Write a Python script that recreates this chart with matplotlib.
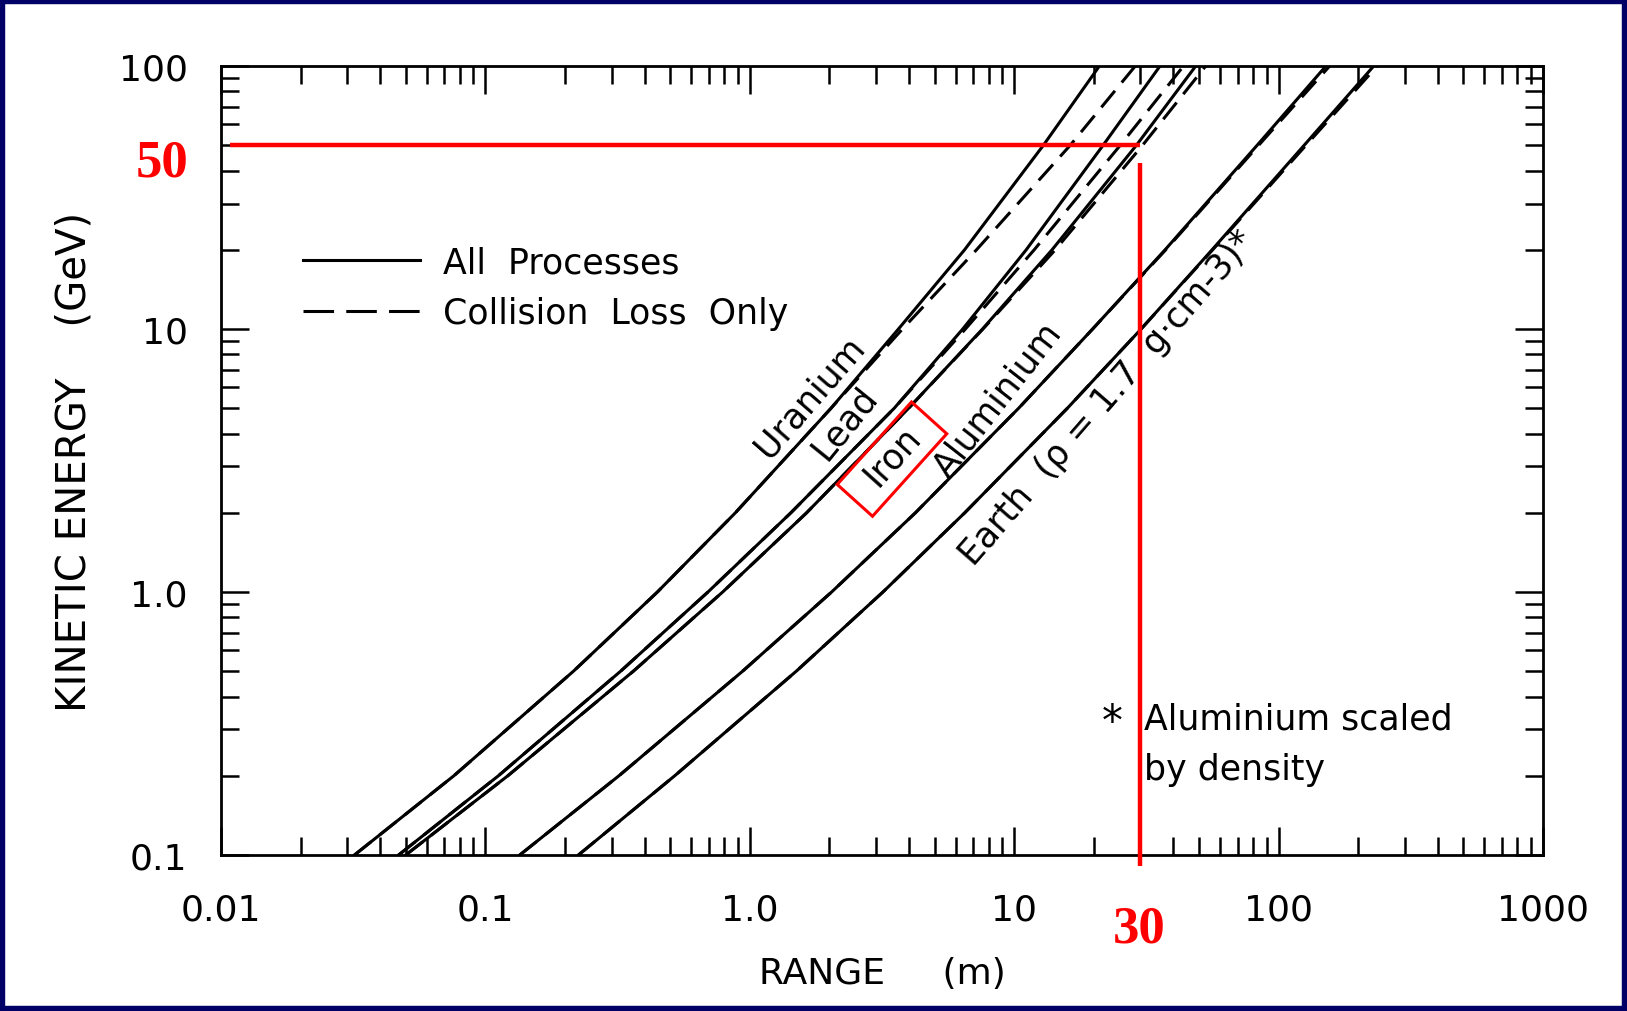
import matplotlib.pyplot as plt
from matplotlib.lines import Line2D
from matplotlib.patches import Rectangle
from matplotlib.transforms import Affine2D, ScaledTranslation
from matplotlib.ticker import NullFormatter

energy = [0.1, 0.2, 0.5, 1, 2, 5, 10, 20, 50, 100]

# range in metres, "all processes" (solid) and "collision loss only" (dashed)
uranium_all = [0.032, 0.076, 0.2155, 0.4475, 0.882, 2.03, 3.65, 6.49, 12.9, 21.0]
uranium_coll = [0.032, 0.076, 0.2155, 0.4475, 0.882, 2.03, 3.78, 7.2, 16.3, 28.7]
lead_all = [0.047, 0.112, 0.325, 0.695, 1.43, 3.52, 6.39, 11.1, 21.7, 35.6]
lead_coll = [0.047, 0.112, 0.325, 0.695, 1.43, 3.52, 6.54, 11.9, 25.2, 43.7]
iron_all = [0.050, 0.1216, 0.363, 0.79, 1.64, 3.99, 7.59, 13.9, 29.0, 48.6]
iron_coll = [0.050, 0.1216, 0.363, 0.79, 1.64, 3.99, 7.62, 14.3, 30.6, 53.0]
alu_all = [0.135, 0.32, 0.94, 2.04, 4.23, 10.4, 19.8, 37.2, 83, 151]
alu_coll = [0.135, 0.32, 0.94, 2.04, 4.23, 10.4, 19.8, 37.4, 84.1, 156]
earth_all = [0.225, 0.52, 1.50, 3.19, 6.5, 15.9, 30.2, 56, 125, 229]
earth_coll = [0.225, 0.52, 1.50, 3.19, 6.5, 15.9, 30.2, 56.3, 127, 236]

xticks = [0.01, 0.1, 1, 10, 100, 1000]
xticklabels = ['0.01', '0.1', '1.0', '10', '100', '1000']
yticks = [0.1, 1, 10, 100]
yticklabels = ['0.1', '1.0', '10', '100']

# the red "50 GeV -> 30 m" guide drawn over the figure
guide_range = 30
guide_energy = 50

FONT = 'DejaVu Sans'
LW = 2.2


def plot_ranges(ax):
    for r in [uranium_all, lead_all, iron_all, alu_all, earth_all]:
        ax.plot(r, energy, color='black', lw=LW)
    for r in [uranium_coll, lead_coll, iron_coll, alu_coll, earth_coll]:
        ax.plot(r, energy, color='black', lw=LW, dashes=(7, 3.5))


def label_curves(ax):
    kw = dict(fontsize=25, family=FONT, ha='center', va='center', rotation_mode='anchor')
    ax.text(1.69, 5.56, 'Uranium', rotation=49, **kw)
    ax.text(2.29, 4.43, 'Lead', rotation=51, **kw)
    ax.text(3.46, 3.31, 'Iron', rotation=48, **kw)
    ax.text(8.7, 5.4, 'Aluminium', rotation=52, **kw)
    ax.text(22.6, 5.5, 'Earth  (ρ = 1.7  g·cm-3)*', rotation=49, **kw)

    ax.text(23.4, 0.32, '*', fontsize=30, family=FONT, ha='center', va='center')
    ax.text(31, 0.33, 'Aluminium scaled', fontsize=25, family=FONT, ha='left', va='center')
    ax.text(31, 0.212, 'by density', fontsize=25, family=FONT, ha='left', va='center')

    handles = [Line2D([], [], color='black', lw=LW),
               Line2D([], [], color='black', lw=LW, dashes=(10, 4))]
    ax.legend(handles, ['All  Processes', 'Collision  Loss  Only'],
              loc='upper left', bbox_to_anchor=(0.062, 0.773), frameon=False,
              prop={'family': FONT, 'size': 25}, handlelength=3.37,
              handletextpad=0.66, labelspacing=0.5, borderpad=0, borderaxespad=0)


def red_marks(fig, ax):
    ax.hlines(guide_energy, 0.0108, guide_range, color='red', lw=3.2, zorder=5)
    ax.vlines(guide_range, 0.091, 42.7, color='red', lw=3.2, zorder=5, clip_on=False)
    rkw = dict(color='red', fontsize=38, family='Liberation Serif', weight='bold',
               ha='center', va='center', clip_on=False)
    ax.text(0.006, 43, '50', **rkw)
    ax.text(29.6, 0.0527, '30', **rkw)

    # box round the "Iron" label
    w, h = 1.11, 0.475
    tr = (Affine2D().rotate_deg(48) + fig.dpi_scale_trans
          + ScaledTranslation(3.45, 3.2, ax.transData))
    ax.add_patch(Rectangle((-w / 2, -h / 2), w, h, transform=tr, fill=False,
                           ec='red', lw=2.2, zorder=5))


fig = plt.figure(figsize=(16.27, 10.12), dpi=100)
ax = fig.add_axes([0.1358, 0.1542, 0.8126, 0.7796])
ax.set_xscale('log')
ax.set_yscale('log')
ax.set_xlim(0.01, 1000)
ax.set_ylim(0.1, 100)

plot_ranges(ax)
label_curves(ax)
red_marks(fig, ax)

ax.set_xticks(xticks, labels=xticklabels)
ax.set_yticks(yticks, labels=yticklabels)
ax.xaxis.set_minor_formatter(NullFormatter())
ax.yaxis.set_minor_formatter(NullFormatter())
ax.tick_params(which='both', direction='in', top=True, right=True, width=1.8,
               labelsize=26, labelfontfamily=FONT)
ax.tick_params(which='major', length=20)
ax.tick_params(which='minor', length=13)
ax.tick_params(axis='x', pad=27)
ax.tick_params(axis='y', pad=24)
for s in ax.spines.values():
    s.set_linewidth(2)

ax.set_xlabel('RANGE     (m)', fontsize=26, family=FONT)
ax.set_ylabel('KINETIC ENERGY    (GeV)', fontsize=29, family=FONT)
ax.xaxis.set_label_coords(0.5, -0.128)
ax.yaxis.set_label_coords(-0.096, 0.5)

fig.add_artist(Rectangle((0, 0), 1, 1, transform=fig.transFigure, fill=False,
                         ec='#000066', lw=7.5))

fig.savefig('out.png', dpi=100)
